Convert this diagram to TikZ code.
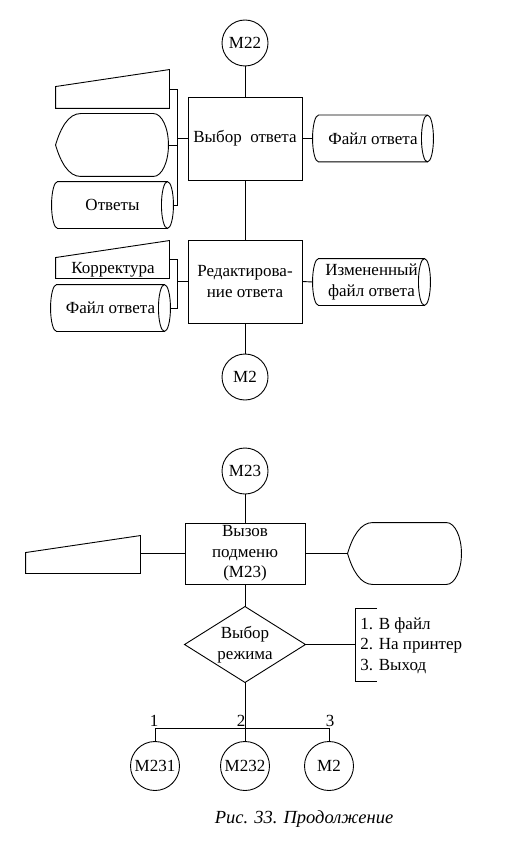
\documentclass[tikz,border=0pt]{standalone}
\usepackage{fontspec}
\setmainfont{Liberation Serif}
\usetikzlibrary{calc}
\newcommand\cylshape[1]{%
  \draw let \p1=(#1.north west), \p2=(#1.south east), \p3=($(#1.north west)!0.5!(#1.south west)$) in
    (\x1+6pt,\y1) -- (\x2-6pt,\y1)
    (\x1+6pt,\y2) -- (\x2-6pt,\y2)
    (\x1+6pt,\y1) arc[start angle=90,end angle=270,x radius=6pt,y radius={(\y1-\y2)/2}]
    (\x2-6pt,\y1) arc[start angle=90,end angle=-270,x radius=6pt,y radius={(\y1-\y2)/2}];}
\newcommand\trapshape[1]{%
  \draw (#1.south west) -- (#1.south east) -- (#1.north east) -- ($(#1.north west)+(0pt,-17pt)$) -- cycle;}
\newcommand\dispshape[1]{%
  \draw let \p1=(#1.north west), \p2=(#1.south east), \p3=($(#1.north west)!0.5!(#1.south west)$) in
   (\x1,\y3) .. controls (\x1+5pt,\y3+17pt) and (\x1+13pt,\y1) .. (\x1+25pt,\y1)
   -- (\x2-15pt,\y1) arc[start angle=90,end angle=-90,x radius=15pt,y radius={(\y1-\y2)/2}]
   -- (\x1+25pt,\y2) .. controls (\x1+13pt,\y2) and (\x1+5pt,\y3-17pt) .. cycle;}
\newcommand\diashape[1]{%
  \draw (#1.north) -- (#1.east) -- (#1.south) -- (#1.west) -- cycle;}
\begin{document}
\begin{tikzpicture}[x=1pt,y=-1pt, line width=0.9pt,
  txt/.style={font=\fontsize{17}{20.5}\selectfont, align=center, inner sep=0pt},
  proc/.style={txt, draw, minimum width=114pt, minimum height=83pt},
  conn/.style={txt, draw, circle, minimum size=46pt},
  shp/.style={txt, minimum height=46pt}]
\path[fill=white] (0,0) rectangle (522,853);
% ---------- section 1
\node[conn] (m22) at (245,43) {М22};
\node[proc] (b1) at (245,138.5) {Выбор~~ответа};
\node[shp, minimum width=120pt] (cy1) at (373,138.5) {Файл ответа};
\node[txt, minimum width=113pt, minimum height=38pt] (tr1) at (112.5,89) {};
\node[txt, minimum width=112pt, minimum height=62pt] (ds1) at (112,145) {};
\node[shp, minimum width=121pt] (cy2) at (112.5,205) {Ответы};
\cylshape{cy1}\cylshape{cy2}\trapshape{tr1}\dispshape{ds1}
\coordinate (k1) at (177,138.5);
\draw (m22.south) -- (b1.north);
\draw (b1.east) -- (cy1.west);
\draw (b1.west) -- (k1);
\draw (tr1.east) -- (tr1.east -| k1) -- (cy2.east -| k1) -- (cy2.east);
\draw (ds1.east) -- (ds1.east -| k1);
% ---------- section 2
\node[proc] (b2) at (245,281.5) {Редактирова-\\ние ответа};
\node[shp, minimum width=117pt] (cy3) at (371.5,282) {Измененный\\файл ответа};
\node[txt, minimum width=113pt, minimum height=37pt] (tr2) at (112.5,259.5) {};
\node[txt] (tr2t) at (113,270) {Корректура};
\node[shp, minimum width=119pt] (cy4) at (110.5,308) {Файл ответа};
\node[conn] (m2a) at (245,377) {М2};
\cylshape{cy3}\cylshape{cy4}\trapshape{tr2}
\coordinate (k2) at (177,281.5);
\draw (b1.south) -- (b2.north);
\draw (b2.east) -- (cy3.west);
\draw (b2.west) -- (k2);
\draw (tr2.east) -- (tr2.east -| k2) -- (cy4.east -| k2) -- (cy4.east);
\draw (b2.south) -- (m2a.north);
% ---------- section 3
\node[conn] (m23) at (245,471) {М23};
\node[proc, minimum width=120pt, minimum height=61pt] (b3) at (245,553.5) {Вызов\\подменю\\(М23)};
\node[txt, minimum width=114pt, minimum height=37pt] (tr3) at (83,554.5) {};
\node[txt, minimum width=113pt, minimum height=61pt] (ds2) at (404.5,553.5) {};
\node[txt, minimum width=120pt, minimum height=75pt] (d1) at (245,644.5) {Выбор\\режима};
\trapshape{tr3}\dispshape{ds2}\diashape{d1}
\node[txt, align=left, anchor=west] (lst) at (360,645.5) {1. В файл\\2. На принтер\\3. Выход};
\coordinate (lbt) at (355,608);
\coordinate (lbb) at (355,681);
\draw (m23.south) -- (b3.north);
\draw (b3.west) -- (b3.west -| tr3.east);
\draw (b3.east) -- (ds2.west);
\draw (b3.south) -- (d1.north);
\draw (d1.east) -- (d1.east -| lbt);
\draw ($(lbt)+(22,0)$) -- (lbt) -- (lbb) -- ($(lbb)+(22,0)$);
\node[conn, minimum size=49pt] (m231) at (155,766) {М231};
\node[conn, minimum size=49pt] (m232) at (245,766) {М232};
\node[conn, minimum size=49pt] (m2b) at (329,766) {М2};
\coordinate (bar) at (245,728);
\draw (d1.south) -- (bar);
\draw (m231.north) -- (m231.north |- bar) -- (m2b.north |- bar) -- (m2b.north);
\draw (bar) -- (m232.north);
\node[txt, anchor=south] (n1) at (154,727) {1};
\node[txt, anchor=south] (n2) at (241,727) {2};
\node[txt, anchor=south] (n3) at (330,727) {3};
\node[txt, font=\fontsize{18.5}{22}\selectfont\itshape] (cap) at (304,819) {Рис. 33. Продолжение};
\end{tikzpicture}
\end{document}
